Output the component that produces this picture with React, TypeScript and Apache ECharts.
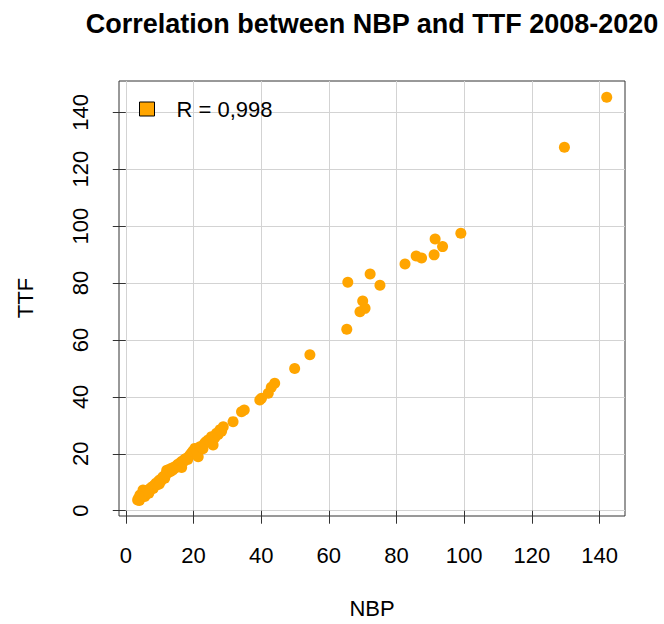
import React, { useEffect, useRef } from "react";
import * as echarts from "echarts";

const nbp = [
  3.5, 3.8, 4.2, 4.5, 5.0, 5.1, 5.3, 5.8, 6.2, 6.5, 7.0, 7.3, 7.8, 8.1, 8.5, 8.9,
  9.3, 9.6, 10.0, 10.4, 10.8, 11.1, 11.5, 11.8, 12.1, 12.5, 12.8, 13.2, 13.5, 13.9,
  14.2, 14.6, 15.0, 15.4, 15.8, 16.2, 16.5, 16.6, 17.0, 17.4, 17.9, 18.3, 18.8, 19.2,
  19.4, 19.8, 20.4, 20.9, 21.4, 21.9, 22.4, 22.8, 23.3, 23.7, 24.3, 24.8, 25.3, 25.8,
  26.3, 26.8, 27.3, 27.8, 28.3, 28.8, 31.7, 34.2, 35.0, 39.6, 40.1, 42.1, 43.0, 44.0,
  49.9, 54.4, 65.3, 69.2, 70.0, 70.7, 65.6, 72.2, 75.1, 82.5, 85.8, 87.4, 91.1, 91.4,
  93.6, 99.0, 129.6, 142.1, 4.0, 5.6, 6.8, 9.9,
];
const ttf = [
  3.8, 4.5, 5.5, 4.8, 5.9, 7.3, 6.5, 5.6, 6.8, 7.3, 6.9, 7.9, 8.4, 7.8, 9.0, 9.6,
  9.1, 10.3, 10.8, 10.4, 11.6, 12.0, 11.4, 12.7, 14.2, 13.3, 14.5, 13.8, 14.9, 14.3,
  15.3, 15.0, 15.8, 16.3, 15.7, 16.9, 15.2, 17.4, 17.1, 18.1, 18.4, 18.0, 19.3, 19.8,
  20.2, 20.9, 21.9, 21.2, 19.0, 22.5, 22.6, 21.8, 23.7, 24.2, 24.8, 24.4, 26.0, 23.1,
  25.6, 27.2, 26.8, 28.4, 27.9, 29.5, 31.3, 34.8, 35.4, 38.9, 39.5, 41.3, 43.4, 44.8,
  50.0, 54.8, 63.8, 69.9, 73.7, 71.1, 80.3, 83.2, 79.2, 86.7, 89.5, 88.8, 89.9, 95.5,
  92.8, 97.5, 127.7, 145.3, 3.6, 5.0, 6.1, 9.4,
];
const xTicks = [0, 20, 40, 60, 80, 100, 120, 140];
const yTicks = [0, 20, 40, 60, 80, 100, 120, 140];
const seriesName = "R = 0,998";
const titleText = "Correlation between NBP and TTF 2008-2020";
const xName = "NBP";
const yName = "TTF";

const FONT = '"Liberation Sans", Arial, Helvetica, sans-serif';

export default function App() {
  const ref = useRef<HTMLDivElement>(null);
  useEffect(() => {
    if (!ref.current) return;
    const chart = echarts.init(ref.current, null, { renderer: "svg" });
    const data = nbp.map((x, i) => [x, ttf[i]]);
    const axisCommon = (ticks: number[]) => ({
      type: "value",
      axisLine: { show: false },
      axisTick: {
        show: true,
        length: 13,
        customValues: ticks,
        lineStyle: { color: "#333", width: 1 },
      },
      axisLabel: {
        customValues: ticks,
        fontSize: 22,
        color: "#000",
        fontFamily: FONT,
        margin: 28,
      },
      splitLine: { show: true, lineStyle: { color: "#d3d3d3", width: 1 } },
    });
    const xAxis: any = { ...axisCommon(xTicks), min: -2.0, max: 147.5 };
    const yAxis: any = { ...axisCommon(yTicks), min: -1.86, max: 151 };
    yAxis.axisLabel = { ...yAxis.axisLabel, rotate: 90 };
    chart.setOption({
      animation: false,
      backgroundColor: "#fff",
      grid: {
        left: 119,
        right: 39,
        top: 81,
        bottom: 108,
        show: true,
        borderColor: "#333",
        borderWidth: 1,
        backgroundColor: "transparent",
      },
      xAxis,
      yAxis,
      legend: {
        show: true,
        left: 139,
        top: 98,
        padding: 0,
        icon: "rect",
        itemWidth: 15,
        itemHeight: 14,
        itemStyle: { color: "#FFA500", borderColor: "#000", borderWidth: 1 },
        textStyle: {
          fontSize: 22,
          color: "#000",
          fontFamily: FONT,
          padding: [0, 0, 0, 17],
        },
        data: [seriesName],
      },
      graphic: [
        {
          type: "text",
          x: 372,
          y: 24,
          style: {
            text: titleText,
            font: `bold 27px ${FONT}`,
            fill: "#000",
            textAlign: "center",
            textVerticalAlign: "middle",
          },
        },
        {
          type: "text",
          x: 372,
          y: 608,
          style: {
            text: xName,
            font: `22px ${FONT}`,
            fill: "#000",
            textAlign: "center",
            textVerticalAlign: "middle",
          },
        },
        {
          type: "text",
          x: 25,
          y: 298,
          rotation: Math.PI / 2,
          style: {
            text: yName,
            font: `22px ${FONT}`,
            fill: "#000",
            textAlign: "center",
            textVerticalAlign: "middle",
          },
        },
      ],
      series: [
        {
          type: "scatter",
          name: seriesName,
          data,
          symbol: "circle",
          symbolSize: 11,
          itemStyle: { color: "#FFA500", opacity: 1 },
        },
      ],
    });
    return () => chart.dispose();
  }, []);
  return <div ref={ref} style={{ width: 664, height: 624, position: "absolute", left: 0, top: 0 }} />;
}
